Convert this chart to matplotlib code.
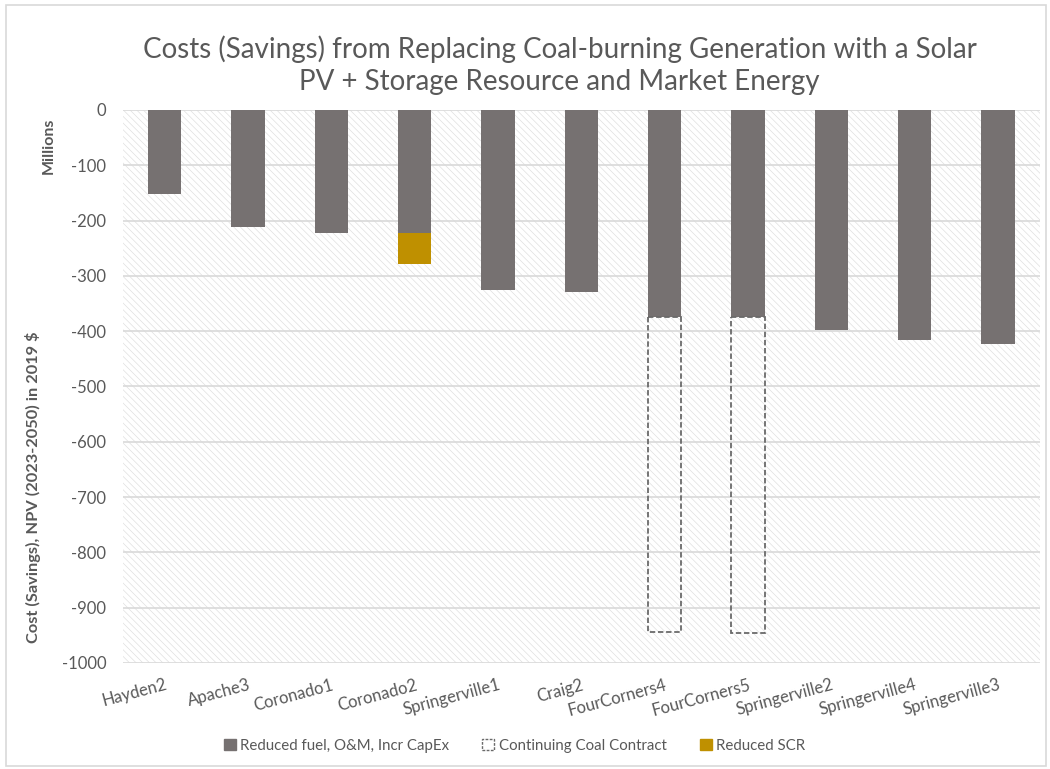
import matplotlib
matplotlib.use("Agg")
import matplotlib.pyplot as plt
from matplotlib.patches import Rectangle, Patch
import numpy as np

plt.rcParams['font.family'] = ['Lato', 'DejaVu Sans']

units = ["Hayden2", "Apache3", "Coronado1", "Coronado2", "Springerville1", "Craig2",
         "FourCorners4", "FourCorners5", "Springerville2", "Springerville4", "Springerville3"]
reduced_fuel = [-152, -211, -222, -222, -326, -329, -374, -374, -398, -416, -424]
coal_contract = [0, 0, 0, 0, 0, 0, -570, -572, 0, 0, 0]
reduced_scr = [0, 0, 0, -56, 0, 0, 0, 0, 0, 0, 0]
yticks = [0, -100, -200, -300, -400, -500, -600, -700, -800, -900, -1000]

title = "Costs (Savings) from Replacing Coal-burning Generation with a Solar\nPV + Storage Resource and Market Energy"
ylabel = "Cost (Savings), NPV (2023-2050) in 2019 $"
legend_labels = ["Reduced fuel, O&M, Incr CapEx", "Continuing Coal Contract", "Reduced SCR"]

GRAY = "#767171"
GOLD = "#BF9000"
TXT = "#595959"

plt.rcParams['hatch.color'] = '#e0e0e0'
plt.rcParams['hatch.linewidth'] = 0.5

fig = plt.figure(figsize=(10.5, 7.69), dpi=100)
ax = fig.add_axes([0.117, 0.138, 0.873, 0.719])

x = np.arange(len(units))
w = 0.4
rf = np.array(reduced_fuel, dtype=float)
cc = np.array(coal_contract, dtype=float)
scr = np.array(reduced_scr, dtype=float)

bg = Rectangle((0, 0), 1, 1, transform=ax.transAxes, facecolor='white',
               edgecolor='#e0e0e0', hatch='\\' * 5, lw=0, zorder=0)
ax.add_patch(bg)
ax.patch.set_visible(False)

ax.bar(x, rf, w, color=GRAY, zorder=3)
ax.bar(x, scr, w, bottom=rf, color=GOLD, zorder=3)
mask = cc != 0
ax.bar(x[mask], cc[mask], w, bottom=rf[mask], facecolor='none', edgecolor='#6a6a6a',
       linestyle=(0, (3, 1.5)), linewidth=1.3, zorder=3)

ax.set_ylim(-1000, 0)
ax.set_xlim(-0.5, len(units) - 0.5)
ax.set_yticks(yticks)
ax.set_yticklabels([str(v) for v in yticks])
ax.yaxis.grid(True, color='#d9d9d9', linewidth=1.2, zorder=1)
ax.set_axisbelow(True)
for s in ['left', 'right', 'top', 'bottom']:
    ax.spines[s].set_visible(False)
ax.tick_params(axis='both', length=0, colors=TXT, labelsize=12)
ax.tick_params(axis='y', pad=12)
ax.set_xticks(x)
ax.set_xticklabels(units, rotation=15, ha='right', rotation_mode='anchor')
ax.tick_params(axis='x', pad=10)

fig.text(0.533, 0.915, title, ha='center', va='center', fontsize=20, color=TXT,
         linespacing=1.3)
fig.text(0.031, 0.366, ylabel, rotation=90, ha='center', va='center', fontsize=11.8,
         color=TXT, fontweight='bold')
fig.text(0.046, 0.81, "Millions", rotation=90, ha='center', va='center', fontsize=11.5,
         color=TXT, fontweight='bold')

handles = [Patch(facecolor=GRAY, edgecolor=GRAY),
           Patch(facecolor='white', edgecolor='#6a6a6a', linestyle=(0, (2, 1)), linewidth=1),
           Patch(facecolor=GOLD, edgecolor=GOLD)]
fig.legend(handles, legend_labels, loc='center', bbox_to_anchor=(0.49, 0.03), ncol=3,
           frameon=False, fontsize=10.8, labelcolor=TXT, handlelength=0.8, handleheight=0.8,
           handletextpad=0.3, columnspacing=2.2)

fig.patches.append(Rectangle((0.006, 0.004), 0.99, 0.99, transform=fig.transFigure,
                             fill=False, edgecolor='#d9d9d9', linewidth=1.2))

fig.savefig("out.png", dpi=100)
